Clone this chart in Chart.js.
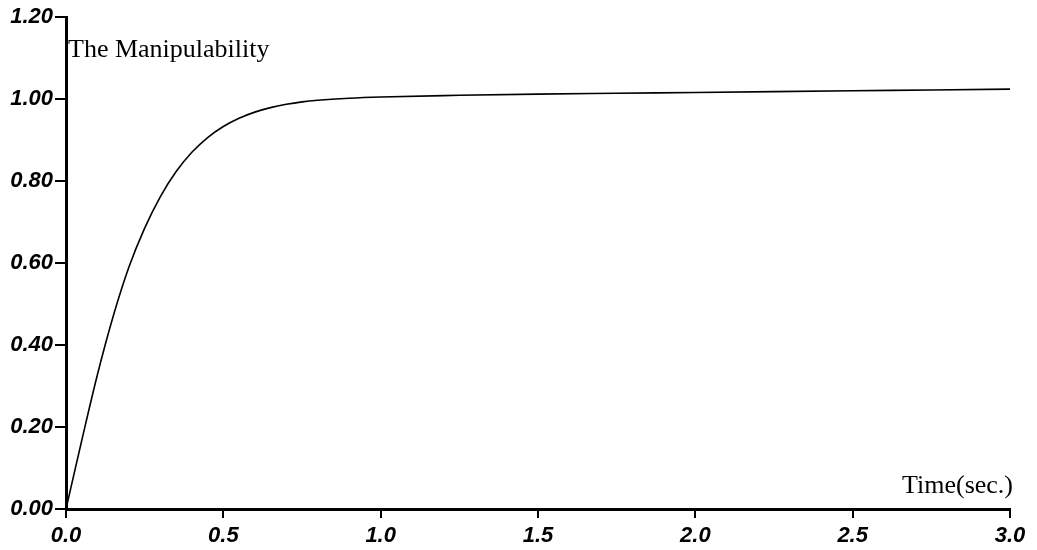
<!DOCTYPE html>
<html>
<head>
<meta charset="utf-8">
<script src="https://cdn.jsdelivr.net/npm/chart.js@4/dist/chart.umd.min.js"></script>
<style>
  html, body { margin: 0; padding: 0; background: #fff; }
  #wrap { position: relative; width: 1037px; height: 550px; }
</style>
</head>
<body>
<div id="wrap"><canvas id="c"></canvas></div>
<script>
// ---- data ----
const timeSec = [0, 0.05, 0.10, 0.15, 0.20, 0.25, 0.30, 0.35, 0.40, 0.45, 0.50, 0.55, 0.60, 0.65, 0.70, 0.75, 0.80, 0.90, 1.00, 1.25, 1.50, 1.75, 2.00, 2.25, 2.50, 2.75, 3.00];
const manipulability = [0, 0.167, 0.328, 0.470, 0.590, 0.685, 0.762, 0.823, 0.870, 0.906, 0.933, 0.953, 0.968, 0.979, 0.987, 0.993, 0.997, 1.002, 1.005, 1.009, 1.012, 1.014, 1.016, 1.018, 1.020, 1.022, 1.024];
const xTickLabels = ['0.0', '0.5', '1.0', '1.5', '2.0', '2.5', '3.0'];
const yTickLabels = ['0.00', '0.20', '0.40', '0.60', '0.80', '1.00', '1.20'];
const yAxisTitle = 'The Manipulability';
const xAxisTitle = 'Time(sec.)';

const points = timeSec.map((t, i) => ({ x: t, y: manipulability[i] }));
const tickFont = { family: '"Liberation Sans", Arial, sans-serif', size: 22, weight: 'bold', style: 'italic' };

const textPlugin = {
  id: 'axisTexts',
  afterDraw(chart) {
    const { ctx, chartArea } = chart;
    ctx.save();
    ctx.fillStyle = '#000';
    ctx.font = '26px "Liberation Serif", "Times New Roman", serif';
    ctx.textBaseline = 'alphabetic';
    ctx.textAlign = 'left';
    ctx.fillText(yAxisTitle, chartArea.left + 2, 57);
    ctx.textAlign = 'right';
    ctx.fillText(xAxisTitle, chartArea.right + 3, chartArea.bottom - 16);
    ctx.restore();
  }
};

new Chart(document.getElementById('c'), {
  type: 'line',
  data: {
    datasets: [{
      data: points,
      borderColor: '#000',
      borderWidth: 1.6,
      pointRadius: 0,
      fill: false,
      cubicInterpolationMode: 'monotone'
    }]
  },
  options: {
    responsive: true,
    maintainAspectRatio: false,
    animation: false,
    events: [],
    layout: { padding: { left: 0, right: 27, top: 17, bottom: 0 } },
    plugins: { legend: { display: false }, tooltip: { enabled: false } },
    scales: {
      x: {
        type: 'linear',
        min: 0, max: 3,
        afterFit(scale) { scale.height = 41; },
        ticks: {
          stepSize: 0.5,
          color: '#000',
          font: tickFont,
          padding: 5,
          maxRotation: 0,
          callback: (v, i) => xTickLabels[i]
        },
        grid: { drawOnChartArea: false, drawTicks: true, tickLength: 9, color: '#000', lineWidth: 2 },
        border: { display: true, color: '#000', width: 3 }
      },
      y: {
        min: 0, max: 1.2,
        afterFit(scale) { scale.width = 66; },
        ticks: {
          stepSize: 0.2,
          color: '#000',
          font: tickFont,
          padding: 2,
          callback: (v, i) => yTickLabels[i]
        },
        grid: { drawOnChartArea: false, drawTicks: true, tickLength: 11, color: '#000', lineWidth: 2 },
        border: { display: true, color: '#000', width: 3 }
      }
    }
  },
  plugins: [textPlugin]
});
</script>
</body>
</html>
